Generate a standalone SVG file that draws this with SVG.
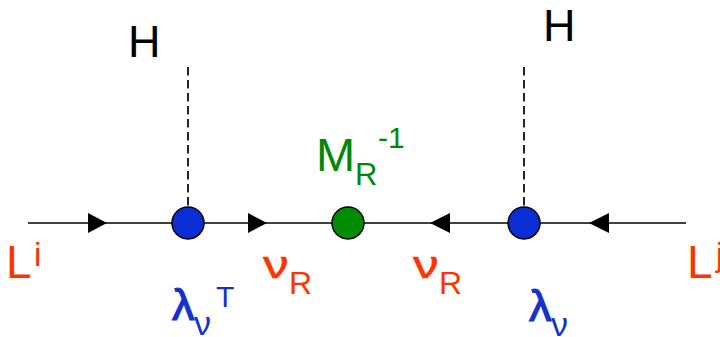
<svg xmlns="http://www.w3.org/2000/svg" width="720" height="337" viewBox="0 0 720 337">
  <style>
    text { font-family: "Liberation Sans", Arial, sans-serif; }
    .blk { fill: #000000; }
    .red { fill: #FF3300; }
    .blu { fill: #1133CC; }
    .grn { fill: #008800; }
    .nu { stroke: #FF3300; stroke-width: 0.5; }
    .lam { stroke: #1133CC; stroke-width: 1.2; }
    .line { stroke: #000000; stroke-width: 1.6; fill: none; }
    .dash { stroke: #000000; stroke-width: 1.7; stroke-dasharray: 8.5 4.5; fill: none; }
    .arrow { fill: #000000; }
    .vtx { stroke: #000000; stroke-width: 1.5; }
  </style>

  <g id="connectors">
    <line class="line" x1="28" y1="223" x2="686" y2="223"/>
    <line class="dash" x1="188" y1="67" x2="188" y2="207"/>
    <line class="dash" x1="524" y1="67" x2="524" y2="207"/>
    <!-- fermion flow arrows -->
    <polygon class="arrow" points="88,213 107,223 88,233"/>
    <polygon class="arrow" points="248,213 267,223 248,233"/>
    <polygon class="arrow" points="450,213 430,223 450,233"/>
    <polygon class="arrow" points="609,213 589,223 609,233"/>
  </g>

  <g id="vertex-left">
    <circle class="vtx" cx="188" cy="223" r="16" fill="#0A2ED4"/>
  </g>
  <g id="vertex-mass">
    <circle class="vtx" cx="348" cy="223" r="16" fill="#008C00"/>
  </g>
  <g id="vertex-right">
    <circle class="vtx" cx="524" cy="223" r="16" fill="#0A2ED4"/>
  </g>

  <g id="higgs-left">
    <text class="blk" x="128" y="57" font-size="45">H</text>
  </g>
  <g id="higgs-right">
    <text class="blk" x="543" y="41" font-size="45">H</text>
  </g>

  <g id="mass-label">
    <text class="grn" x="316" y="171" font-size="47">M</text>
    <text class="grn" x="355" y="185" font-size="31">R</text>
    <text class="grn" x="378" y="148" font-size="30">-1</text>
  </g>

  <g id="lepton-i">
    <text class="red" x="6" y="278" font-size="46">L</text>
    <text class="red" x="34" y="266" font-size="33">i</text>
  </g>
  <g id="lepton-j">
    <text class="red" x="687" y="278" font-size="46">L</text>
    <text class="red" x="716" y="266" font-size="33">j</text>
  </g>

  <g id="nuR-left">
    <text class="red nu" font-size="38" transform="translate(263,278) scale(1.35,1)">ν</text>
    <text class="red" x="289" y="294" font-size="32">R</text>
  </g>
  <g id="nuR-right">
    <text class="red nu" font-size="38" transform="translate(413,278) scale(1.35,1)">ν</text>
    <text class="red" x="439" y="294" font-size="32">R</text>
  </g>

  <g id="yukawa-left">
    <text class="blu lam" x="172" y="320" font-size="45">λ</text>
    <text class="blu" x="194" y="335" font-size="34">ν</text>
    <text class="blu" x="216" y="307" font-size="30">T</text>
  </g>
  <g id="yukawa-right">
    <text class="blu lam" x="529" y="321" font-size="45">λ</text>
    <text class="blu" x="551" y="336" font-size="34">ν</text>
  </g>
</svg>
